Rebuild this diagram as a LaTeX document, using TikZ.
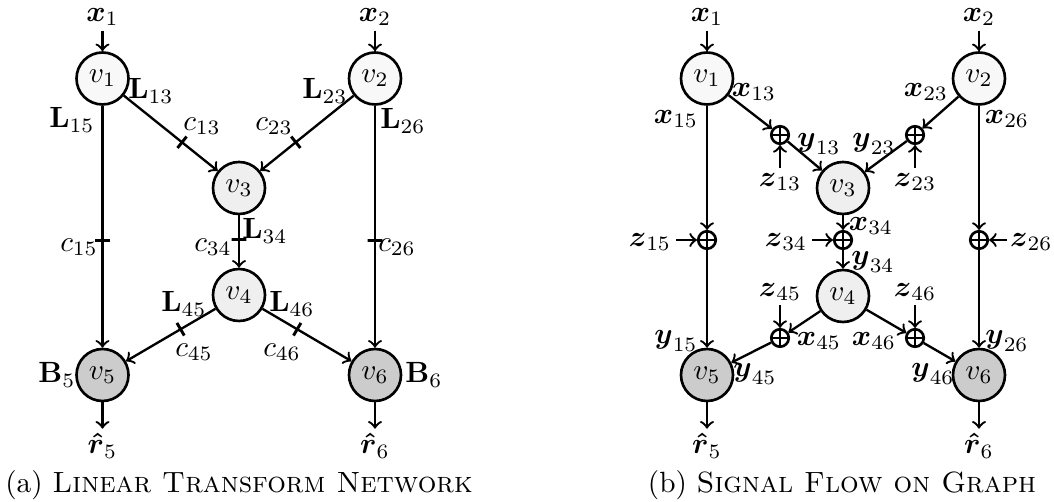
\documentclass[tikz,border=0pt]{standalone}
\usepackage{amsmath}
\usepackage{tikz}
\usetikzlibrary{positioning}
\definecolor{vin}{HTML}{F8F8F8}
\definecolor{vmid}{HTML}{EFEFEF}
\definecolor{vout}{HTML}{CCCCCC}
\newcommand{\bv}[1]{\boldsymbol{#1}}
\tikzset{
  vtx/.style={circle,draw,line width=0.9pt,minimum size=0.624cm,inner sep=0pt},
  sumnode/.style={circle,draw,line width=0.9pt,minimum size=0.21cm,inner sep=0pt,
    path picture={\draw[thick] (path picture bounding box.north) -- (path picture bounding box.south)
      (path picture bounding box.west) -- (path picture bounding box.east);}},
  edge/.style={->,thick},
  tick/.style={draw,line width=1pt,sloped,inner sep=0pt,minimum width=0pt,minimum height=5pt},
  lbl/.style={inner sep=1.5pt},
}
\begin{document}
\begin{tikzpicture}[x=0.12cm,y=-0.12cm,>=to]
\useasboundingbox (0,0) rectangle (105.4,50.2);
% (a) linear transform network
\node[vtx,fill=vin] (a1) at (10.25,7.85) {$v_1$};
\node[vtx,fill=vin] (a2) at (37.5,7.85) {$v_2$};
\node[vtx,fill=vmid] (a3) at (23.9,18.8) {$v_3$};
\node[vtx,fill=vmid] (a4) at (23.9,29.5) {$v_4$};
\node[vtx,fill=vout] (a5) at (10.25,37.5) {$v_5$};
\node[vtx,fill=vout] (a6) at (37.5,37.5) {$v_6$};
\node[lbl] (ax1) at (10.25,1.7) {$\bv{x}_1$};
\node[lbl] (ax2) at (37.5,1.7) {$\bv{x}_2$};
\node[lbl] (ar5) at (10.25,44.6) {$\bv{\hat{r}}_5$};
\node[lbl] (ar6) at (37.5,44.6) {$\bv{\hat{r}}_6$};
\draw[edge] (ax1) -- (a1);
\draw[edge] (ax2) -- (a2);
\draw[edge] (a5) -- (ar5);
\draw[edge] (a6) -- (ar6);
\draw[edge] (a1) -- node[tick,pos=0.62]{} (a3);
\draw[edge] (a2) -- node[tick,pos=0.62]{} (a3);
\draw[edge] (a1) -- node[tick,pos=0.555]{} (a5);
\draw[edge] (a2) -- node[tick,pos=0.555]{} (a6);
\draw[edge] (a3) -- node[tick,pos=0.47]{} (a4);
\draw[edge] (a4) -- node[tick,pos=0.39]{} (a5);
\draw[edge] (a4) -- node[tick,pos=0.39]{} (a6);
\node[lbl] (aL13) at (15.1,9.1) {$\mathbf{L}_{13}$};
\node[lbl] (aL15) at (7.2,12.0) {$\mathbf{L}_{15}$};
\node[lbl] (aL23) at (32.5,9.1) {$\mathbf{L}_{23}$};
\node[lbl] (aL26) at (40.3,12.1) {$\mathbf{L}_{26}$};
\node[lbl] (aL34) at (26.5,23.1) {$\mathbf{L}_{34}$};
\node[lbl] (aL45) at (18.4,30.4) {$\mathbf{L}_{45}$};
\node[lbl] (aL46) at (29.2,30.4) {$\mathbf{L}_{46}$};
\node[lbl] (aB5) at (5.7,37.5) {$\mathbf{B}_5$};
\node[lbl] (aB6) at (42.4,37.5) {$\mathbf{B}_6$};
\node[lbl] (ac13) at (20.2,12.6) {$c_{13}$};
\node[lbl] (ac23) at (27.4,12.6) {$c_{23}$};
\node[lbl] (ac15) at (7.9,24.7) {$c_{15}$};
\node[lbl] (ac34) at (21.3,24.7) {$c_{34}$};
\node[lbl] (ac26) at (39.7,24.7) {$c_{26}$};
\node[lbl] (ac45) at (19.4,35.2) {$c_{45}$};
\node[lbl] (ac46) at (28.2,35.2) {$c_{46}$};
\node (capa) at (23.9,48.5) {(a) \textsc{Linear Transform Network}};
% (b) signal flow on graph
\node[vtx,fill=vin] (b1) at (70.7,7.85) {$v_1$};
\node[vtx,fill=vin] (b2) at (97.9,7.85) {$v_2$};
\node[vtx,fill=vmid] (b3) at (84.3,18.8) {$v_3$};
\node[vtx,fill=vmid] (b4) at (84.3,29.6) {$v_4$};
\node[vtx,fill=vout] (b5) at (70.7,37.5) {$v_5$};
\node[vtx,fill=vout] (b6) at (97.9,37.5) {$v_6$};
\node[sumnode] (s13) at (78.0,13.5) {};
\node[sumnode] (s23) at (91.5,13.5) {};
\node[sumnode] (s15) at (70.7,24.0) {};
\node[sumnode] (s34) at (84.3,24.0) {};
\node[sumnode] (s26) at (97.9,24.0) {};
\node[sumnode] (s45) at (78.0,33.8) {};
\node[sumnode] (s46) at (91.5,33.8) {};
\node[lbl] (bx1) at (70.7,1.7) {$\bv{x}_1$};
\node[lbl] (bx2) at (97.9,1.7) {$\bv{x}_2$};
\node[lbl] (br5) at (70.7,44.6) {$\bv{\hat{r}}_5$};
\node[lbl] (br6) at (97.9,44.6) {$\bv{\hat{r}}_6$};
\node[lbl,below=2.8mm of s13] (bz13) {$\bv{z}_{13}$};
\node[lbl,below=2.8mm of s23] (bz23) {$\bv{z}_{23}$};
\node[lbl,above=2.7mm of s45] (bz45) {$\bv{z}_{45}$};
\node[lbl,above=2.7mm of s46] (bz46) {$\bv{z}_{46}$};
\node[lbl,anchor=mid east] (bz15) at ([xshift=-2.5mm]s15.west) {$\bv{z}_{15}$};
\node[lbl,anchor=mid east] (bz34) at ([xshift=-2.5mm]s34.west) {$\bv{z}_{34}$};
\node[lbl,anchor=mid west,inner sep=1pt] (bz26) at ([xshift=2.1mm]s26.east) {$\bv{z}_{26}$};
\draw[edge] (bx1) -- (b1);
\draw[edge] (bx2) -- (b2);
\draw[edge] (b5) -- (br5);
\draw[edge] (b6) -- (br6);
\draw[edge] (b1) -- (s13);
\draw[edge] (s13) -- (b3);
\draw[edge] (b2) -- (s23);
\draw[edge] (s23) -- (b3);
\draw[edge] (b1) -- (s15);
\draw[edge] (s15) -- (b5);
\draw[edge] (b2) -- (s26);
\draw[edge] (s26) -- (b6);
\draw[edge] (b3) -- (s34);
\draw[edge] (s34) -- (b4);
\draw[edge] (b4) -- (s45);
\draw[edge] (s45) -- (b5);
\draw[edge] (b4) -- (s46);
\draw[edge] (s46) -- (b6);
\draw[edge] (bz13) -- (s13);
\draw[edge] (bz23) -- (s23);
\draw[edge] (bz45) -- (s45);
\draw[edge] (bz46) -- (s46);
\draw[edge] (bz15.mid east) -- (s15);
\draw[edge] (bz34.mid east) -- (s34);
\draw[edge] (bz26.mid west) -- (s26);
\node[lbl] (bx13) at (75.4,9.2) {$\bv{x}_{13}$};
\node[lbl] (bx15) at (67.6,11.9) {$\bv{x}_{15}$};
\node[lbl] (bx23) at (92.6,9.2) {$\bv{x}_{23}$};
\node[lbl] (bx26) at (100.7,11.9) {$\bv{x}_{26}$};
\node[lbl] (by13) at (81.9,14.4) {$\bv{y}_{13}$};
\node[lbl] (by23) at (87.4,14.4) {$\bv{y}_{23}$};
\node[lbl] (bx34) at (87.1,22.6) {$\bv{x}_{34}$};
\node[lbl] (by34) at (87.3,26.2) {$\bv{y}_{34}$};
\node[lbl] (bx45) at (81.9,34.1) {$\bv{x}_{45}$};
\node[lbl] (bx46) at (87.4,34.1) {$\bv{x}_{46}$};
\node[lbl] (by15) at (67.6,34.1) {$\bv{y}_{15}$};
\node[lbl] (by26) at (100.7,34.1) {$\bv{y}_{26}$};
\node[lbl] (by45) at (75.5,37.4) {$\bv{y}_{45}$};
\node[lbl] (by46) at (93.3,37.4) {$\bv{y}_{46}$};
\node (capb) at (84.2,48.5) {(b) \textsc{Signal Flow on Graph}};
\end{tikzpicture}
\end{document}
